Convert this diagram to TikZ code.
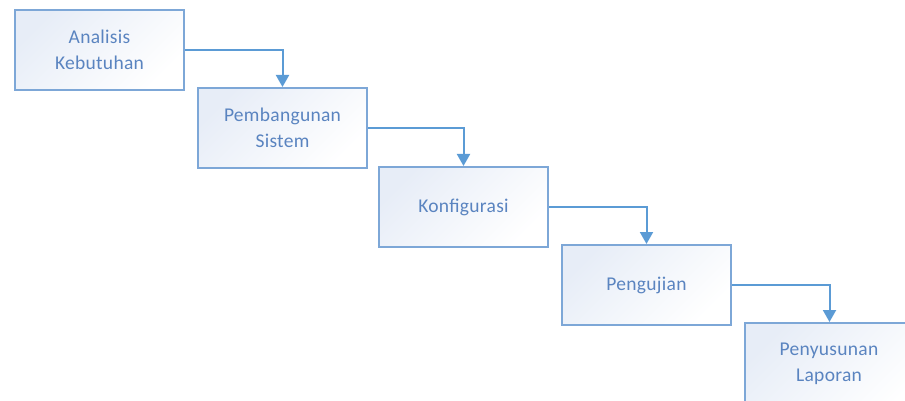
\documentclass[tikz,border=0pt]{standalone}
\usepackage{fontspec}
\setmainfont{Carlito}[LetterSpace=1.5]
\usetikzlibrary{arrows.meta}
\definecolor{bordc}{RGB}{125,167,215}
\definecolor{arrc}{RGB}{91,155,213}
\definecolor{txtc}{RGB}{90,132,192}
\definecolor{fillc}{RGB}{231,237,247}
\tikzset{
  stepbox/.style={draw=bordc, line width=2pt, top color=fillc, bottom color=white, shading angle=45,
    minimum width=169pt, minimum height=80pt, inner sep=0pt, text=txtc, align=center,
    font=\fontsize{19.5}{26}\selectfont, anchor=north west},
  conn/.style={draw=arrc, line width=2pt, -{Triangle[length=12pt,width=13pt]}}
}
\begin{document}
\begin{tikzpicture}[x=1pt,y=-1pt]
\useasboundingbox (0,0) rectangle (905,401);
\clip (0,0) rectangle (905,401);
\node[stepbox] (a) at (14,9) {Analisis\\Kebutuhan};
\node[stepbox] (b) at (197,87) {Pembangunan\\Sistem};
\node[stepbox] (c) at (378,166) {Konfigurasi};
\node[stepbox] (d) at (561,244) {Pengujian};
\node[stepbox, minimum height=100pt] (e) at (744,322) {};
\node[text=txtc, align=center, font=\fontsize{19.5}{26}\selectfont] (et) at (829,364) {Penyusunan\\Laporan};
\draw[conn] (a.east) -| (b.north);
\draw[conn] (b.east) -| (c.north);
\draw[conn] (c.east) -| (d.north);
\draw[conn] (d.east) -| (e.north);
\end{tikzpicture}
\end{document}
